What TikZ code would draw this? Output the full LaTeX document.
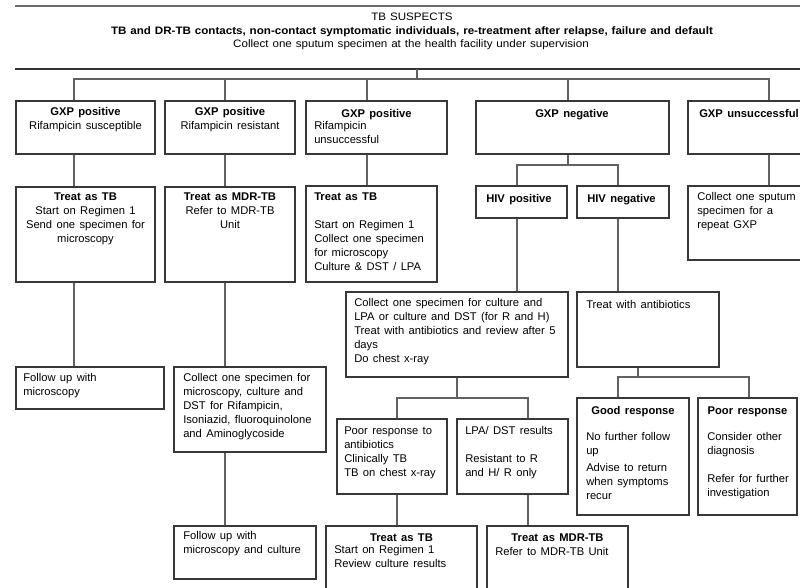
\documentclass[tikz,border=0pt]{standalone}
\usepackage{fontspec}
\setmainfont[WordSpace=1.4]{Liberation Sans}
\newfontfamily\hdrfont[FakeStretch=1.075,WordSpace=1.2]{Liberation Sans}
\usetikzlibrary{fit,calc}
\begin{document}
\begin{tikzpicture}[x=0.75pt,y=-0.75pt,
  box/.style={draw=black!78, line width=0.8pt, inner sep=0pt},
  wire/.style={draw=black!62, line width=1pt},
  rulel/.style={draw=black!58, line width=1.1pt},
  hdr/.style={inner sep=0pt, anchor=base, font=\hdrfont\fontsize{8.1pt}{9pt}\selectfont},
  txt/.style={inner sep=0pt, anchor=north west, align=left, yshift=7.35pt,
    font=\fontsize{8.4pt}{10.5pt}\selectfont, execute at begin node=\strut},
  ctr/.style={inner sep=0pt, anchor=north, align=center, yshift=7.35pt,
    font=\fontsize{8.4pt}{10.5pt}\selectfont, execute at begin node=\strut}
]
\useasboundingbox (0,0) rectangle (800,588);

% header rules and text
\coordinate (r1l) at (15,6);   \coordinate (r1r) at (800,6);
\coordinate (r2l) at (15,69);  \coordinate (r2r) at (800,69);
\coordinate (r2m) at (417,69);
\draw[rulel] (r1l) -- (r1r);
\draw[rulel, draw=black!80] (r2l) -- (r2r);
\node[hdr] (h1) at (412,21) {TB SUSPECTS};
\node[hdr] (h2) at (412,34.5) {\bfseries TB and DR-TB contacts,\ non-contact symptomatic\ individuals, re-treatment after relapse, failure and default};
\node[hdr] (h3) at (411,48) {Collect one sputum specimen at the health facility under supervision};

% boxes
\node[box, fit={(16,101) (155,154)}] (a1) {};
\node[box, fit={(165,101) (295,154)}] (b1) {};
\node[box, fit={(306,101) (447,154)}] (c1) {};
\node[box, fit={(476,101) (669,154)}] (d1) {};
\node[box, fit={(688,101) (812,154)}] (e1) {};

\node[box, fit={(16,187) (155,282)}] (a2) {};
\node[box, fit={(165,187) (295,282)}] (b2) {};
\node[box, fit={(306,186) (437,282)}] (c2) {};
\node[box, fit={(476,186) (567,218)}] (hp) {};
\node[box, fit={(577,186) (669,218)}] (hn) {};
\node[box, fit={(688,186) (812,260)}] (e2) {};

\node[box, fit={(16,367) (164,409)}] (a3) {};
\node[box, fit={(174,367) (326,452)}] (b3) {};
\node[box, fit={(346,292) (568,377)}] (cs) {};
\node[box, fit={(577,292) (719,367)}] (ab) {};
\node[box, fit={(337,419) (447,494)}] (pr) {};
\node[box, fit={(457,419) (568,494)}] (ld) {};
\node[box, fit={(577,398) (689,515)}] (gr) {};
\node[box, fit={(698,398) (797,515)}] (po) {};

\node[box, fit={(174,526) (316,579)}] (b4) {};
\node[box, fit={(326,526) (477,600)}] (t4) {};
\node[box, fit={(487,526) (628,600)}] (m4) {};

% box texts
\node[ctr] (a1t) at (85.5,117) {\textbf{GXP positive}\\Rifampicin susceptible};
\node[ctr] (b1t) at (230,117) {\textbf{GXP positive}\\Rifampicin resistant};
\node[ctr] (c1t) at (376.5,117) {\textbf{GXP positive}};
\node[txt] (c1u) at (314,131) {Rifampicin\\unsuccessful};
\node[ctr] (d1t) at (572,117) {\textbf{GXP negative}};
\node[txt] (e1t) at (699,117) {\textbf{GXP unsuccessful}};

\node[ctr] (a2t) at (85.5,202) {\textbf{Treat as TB}\\Start on Regimen 1\\Send one specimen for\\microscopy};
\node[ctr] (b2t) at (230,202) {\textbf{Treat as MDR-TB}\\Refer to MDR-TB\\Unit};
\node[txt] (c2t) at (314,202) {\textbf{Treat as TB}\\[10.5pt]Start on Regimen 1\\Collect one specimen\\for microscopy\\Culture \& DST / LPA};
\node[txt] (hpt) at (486,202) {\textbf{HIV positive}};
\node[txt] (hnt) at (587,202) {\textbf{HIV negative}};
\node[txt] (e2t) at (697,202) {Collect one sputum\\specimen for a\\repeat GXP};

\node[txt] (a3t) at (23,383) {Follow up with\\microscopy};
\node[txt] (b3t) at (183,383) {Collect one specimen for\\microscopy, culture and\\DST for Rifampicin,\\Isoniazid, fluoroquinolone\\and Aminoglycoside};
\node[txt] (cst) at (354,308) {Collect one specimen for culture and\\LPA or culture and DST (for R and H)\\Treat with antibiotics and review after 5\\days\\Do chest x-ray};
\node[txt] (abt) at (586,308) {Treat with antibiotics};
\node[txt] (prt) at (344,436) {Poor response to\\antibiotics\\Clinically TB\\TB on chest x-ray};
\node[txt] (ldt) at (465,436) {LPA/ DST results\\[10.5pt]Resistant to R\\and H/ R only};
\node[ctr] (grt) at (633,414) {\textbf{Good response}};
\node[txt] (grb) at (586,442) {No further follow\\up\\[2.2pt]Advise to return\\when symptoms\\recur};
\node[ctr] (pot) at (747.5,414) {\textbf{Poor response}};
\node[txt] (pob) at (707,442) {Consider other\\diagnosis\\[10.5pt]Refer for further\\investigation};

\node[txt] (b4t) at (183,541) {Follow up with\\microscopy and culture};
\node[ctr] (t4t) at (401.5,541) {\textbf{Treat as TB}};
\node[txt] (t4b) at (334,555) {Start on Regimen 1\\Review culture results};
\node[ctr] (m4t) at (557.5,541) {\textbf{Treat as MDR-TB}};
\node[txt] (m4b) at (495,555) {Refer to MDR-TB Unit};

% connector columns and junctions
\coordinate (xa) at (74,0);
\coordinate (xb) at (225,0);
\coordinate (xc) at (367,0);
\coordinate (xd) at (568,0);
\coordinate (xe) at (769,0);
\coordinate (xhp) at (517,0);
\coordinate (xhn) at (618,0);
\coordinate (xpr) at (397,0);
\coordinate (xld) at (528,0);
\coordinate (xgr) at (618,0);
\coordinate (xpo) at (749,0);
\coordinate (bus) at (417,79);
\coordinate (jd) at (568,165);
\coordinate (jc) at (457,398);
\coordinate (ja) at (638,377);

% top distribution bus
\draw[wire] (r2m) -- (bus);
\draw[wire] (xa |- a1.north) |- (bus) -| (xe |- e1.north);
\draw[wire] (xb |- bus) -- (xb |- b1.north);
\draw[wire] (xc |- bus) -- (xc |- c1.north);
\draw[wire] (xd |- bus) -- (xd |- d1.north);

% first to second row
\draw[wire] (xa |- a1.south) -- (xa |- a2.north);
\draw[wire] (xb |- b1.south) -- (xb |- b2.north);
\draw[wire] (xc |- c1.south) -- (xc |- c2.north);
\draw[wire] (xd |- d1.south) -- (jd);
\draw[wire] (xhp |- hp.north) |- (jd) -| (xhn |- hn.north);
\draw[wire] (xe |- e1.south) -- (xe |- e2.north);

% lower levels
\draw[wire] (xa |- a2.south) -- (xa |- a3.north);
\draw[wire] (xb |- b2.south) -- (xb |- b3.north);
\draw[wire] (xb |- b3.south) -- (xb |- b4.north);
\draw[wire] (xhp |- hp.south) -- (xhp |- cs.north);
\draw[wire] (xhn |- hn.south) -- (xhn |- ab.north);
\draw[wire] (jc |- cs.south) -- (jc);
\draw[wire] (xpr |- pr.north) |- (jc) -| (xld |- ld.north);
\draw[wire] (ja |- ab.south) -- (ja);
\draw[wire] (xgr |- gr.north) |- (ja) -| (xpo |- po.north);
\draw[wire] (xpr |- pr.south) -- (xpr |- t4.north);
\draw[wire] (xld |- ld.south) -- (xld |- m4.north);
\end{tikzpicture}
\end{document}
